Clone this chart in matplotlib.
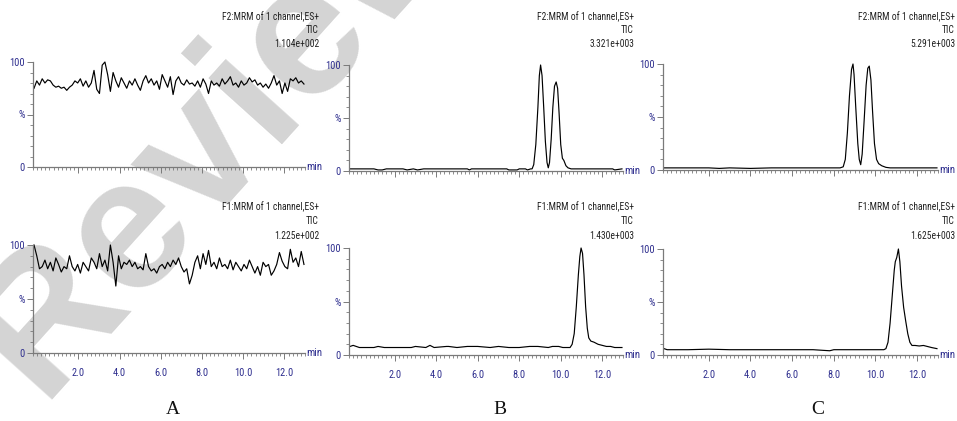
import numpy as np
import matplotlib
matplotlib.use("Agg")
import matplotlib.pyplot as plt
from matplotlib.ticker import FixedLocator, MultipleLocator
from matplotlib import font_manager

# ---------------- data ----------------
t_start, t_end = -0.15, 12.95

# Panel A (blank) - noisy TIC traces, % relative intensity
a_top_vals = [75, 82, 78, 84, 80, 83, 82, 78, 76, 77, 75, 76, 73, 76, 78, 82, 80, 84, 77, 82,
              76, 80, 92, 74, 70, 97, 100, 88, 72, 90, 82, 76, 85, 80, 75, 82, 78, 84, 78, 73,
              82, 87, 80, 84, 78, 82, 74, 88, 82, 76, 86, 69, 82, 86, 80, 78, 83, 79, 80, 77,
              82, 76, 84, 79, 70, 82, 78, 80, 77, 84, 79, 82, 86, 78, 80, 76, 82, 78, 80, 85,
              81, 83, 78, 80, 76, 79, 75, 80, 87, 78, 82, 70, 80, 72, 84, 82, 85, 80, 82, 79]
a_bot_vals = [100, 90, 78, 80, 86, 78, 84, 76, 88, 82, 75, 80, 78, 90, 80, 76, 82, 74, 84, 80,
              76, 88, 84, 78, 92, 80, 86, 76, 100, 84, 62, 90, 78, 84, 82, 86, 80, 84, 78, 80,
              77, 92, 80, 76, 78, 74, 80, 82, 78, 84, 80, 86, 82, 88, 80, 75, 78, 64, 72, 84,
              90, 78, 92, 82, 95, 80, 84, 78, 88, 80, 82, 78, 86, 77, 84, 80, 76, 82, 78, 86,
              80, 74, 80, 72, 84, 80, 82, 72, 76, 82, 93, 85, 80, 78, 96, 84, 88, 80, 94, 82]

# Panel B (standard) - F2 channel (two peaks), F1 channel (single peak)
b_top_t = [-0.15, 0.5, 1.0, 1.2, 1.4, 1.6, 2.4, 2.6, 2.9, 3.1, 3.4, 5.5, 5.6, 5.7, 7.4, 7.5,
           7.9, 8.0, 8.3, 8.4, 8.55, 8.62, 8.7, 8.8, 8.9, 8.97, 9.03, 9.1, 9.18, 9.26, 9.34,
           9.40, 9.46, 9.54, 9.62, 9.70, 9.78, 9.85, 9.92, 10.0, 10.08, 10.15, 10.25, 10.35,
           10.5, 11.0, 12.0, 12.5, 12.6, 12.95]
b_top_v = [2, 2, 2, 1, 1, 2, 2, 1, 2, 1, 2, 2, 1, 2, 2, 1,
           1, 2, 2, 1, 2, 2, 6, 25, 60, 90, 100, 90, 60, 28, 8,
           3, 8, 30, 60, 80, 84, 78, 55, 25, 12, 10, 5, 3,
           2, 2, 2, 2, 1, 2]
b_bot_t = [-0.15, 0.0, 0.15, 0.3, 1.0, 1.2, 1.5, 2.0, 2.8, 3.0, 3.5, 3.7, 3.9, 4.5, 4.6, 5.0,
           5.5, 6.0, 6.6, 7.0, 7.5, 8.0, 8.5, 8.9, 9.4, 9.6, 9.9, 10.1, 10.3, 10.45, 10.55,
           10.65, 10.75, 10.85, 10.92, 10.98, 11.05, 11.12, 11.2, 11.28, 11.35, 11.45, 11.6,
           11.8, 12.0, 12.2, 12.4, 12.6, 12.75, 12.95]
b_bot_v = [8, 9, 8, 7, 7, 8, 7, 7, 7, 8, 7, 9, 7, 8, 8, 7,
           8, 8, 7, 8, 7, 7, 8, 8, 7, 8, 8, 7, 7, 7, 10,
           20, 45, 75, 92, 100, 95, 75, 45, 25, 16, 13, 12,
           10, 9, 8, 8, 7, 7, 7]

# Panel C (sample) - F2 channel (two peaks), F1 channel (single peak)
c_top_t = [-0.15, 1.0, 2.0, 2.5, 3.0, 4.0, 5.0, 6.0, 7.0, 8.0, 8.3, 8.45, 8.55, 8.65, 8.75,
           8.85, 8.92, 8.97, 9.05, 9.15, 9.22, 9.29, 9.36, 9.45, 9.55, 9.63, 9.70, 9.78, 9.86,
           9.95, 10.05, 10.15, 10.3, 10.5, 10.7, 11.5, 12.5, 12.95]
c_top_v = [2, 2, 2, 1.5, 2, 1.5, 2, 2, 2, 2, 2, 3, 10, 35, 70,
           95, 100, 90, 60, 25, 10, 5, 15, 45, 80, 96, 98, 85, 55,
           25, 10, 6, 4, 2.5, 2, 2, 2, 2]
c_bot_t = [-0.15, 0.0, 0.2, 1.0, 2.0, 3.0, 4.0, 5.0, 6.0, 7.0, 7.8, 8.0, 9.0, 10.0, 10.4,
           10.5, 10.6, 10.7, 10.8, 10.9, 10.95, 11.02, 11.1, 11.17, 11.25, 11.35, 11.45,
           11.55, 11.65, 11.75, 11.9, 12.1, 12.3, 12.5, 12.7, 12.95]
c_bot_v = [6, 5, 5, 5, 5.5, 5, 5, 5, 5, 5, 4, 5, 5, 5, 5,
           6, 12, 30, 55, 80, 88, 92, 100, 88, 65, 45, 32,
           20, 12, 9, 9, 8.5, 9, 8, 7, 6]

headers_top = [("F2:MRM of 1 channel,ES+", "TIC", "1.104e+002"),
               ("F2:MRM of 1 channel,ES+", "TIC", "3.321e+003"),
               ("F2:MRM of 1 channel,ES+", "TIC", "5.291e+003")]
headers_bot = [("F1:MRM of 1 channel,ES+", "TIC", "1.225e+002"),
               ("F1:MRM of 1 channel,ES+", "TIC", "1.430e+003"),
               ("F1:MRM of 1 channel,ES+", "TIC", "1.625e+003")]
panel_labels = ["A", "B", "C"]
x_ticks = [2, 4, 6, 8, 10, 12]
y_ticks = [0, 50, 100]
y_ticklabels = ["0", "%", "100"]

# ---------------- drawing ----------------
W, H = 957, 421
fig = plt.figure(figsize=(W / 100, H / 100), dpi=100)

available = {f.name for f in font_manager.fontManager.ttflist}
narrow_candidates = ["Liberation Sans Narrow", "DejaVu Sans Condensed", "Roboto Condensed",
                     "Open Sans Condensed"]
narrow = [f for f in narrow_candidates if f in available]
if narrow:
    NARROW = [narrow[0], "DejaVu Sans"]
    HDR_SIZE, TICK_SIZE = 6.9, 7.5
else:
    NARROW = ["Liberation Sans", "DejaVu Sans"]
    HDR_SIZE, TICK_SIZE = 5.8, 6.5
BLUE = "#2e2e8e"

# watermark
fig.text(40 / W, 1 - 400 / H, "Review", rotation=48, rotation_mode="anchor",
         fontsize=135, color="#d4d4d4", fontweight="bold",
         family=["Liberation Sans", "DejaVu Sans"],
         ha="left", va="baseline", zorder=-5)

def px_rect(left, right, y0, y100):
    return [left / W, 1 - y0 / H, (right - left) / W, (y0 - y100) / H]

rects = {
    (0, 0): px_rect(33, 305, 167, 62),
    (0, 1): px_rect(33, 305, 353, 245),
    (1, 0): px_rect(349, 623, 171, 65),
    (1, 1): px_rect(349, 623, 355, 248),
    (2, 0): px_rect(663, 938, 170, 64),
    (2, 1): px_rect(663, 938, 355, 249),
}

series = {
    (0, 0): (np.linspace(t_start, t_end, len(a_top_vals)), a_top_vals),
    (0, 1): (np.linspace(t_start, t_end, len(a_bot_vals)), a_bot_vals),
    (1, 0): (b_top_t, b_top_v),
    (1, 1): (b_bot_t, b_bot_v),
    (2, 0): (c_top_t, c_top_v),
    (2, 1): (c_bot_t, c_bot_v),
}

header_right = [319, 634, 955]
header_y_top = [17, 30, 44]
header_y_bot = [207, 221, 236]

for (col, row), rect in rects.items():
    ax = fig.add_axes(rect)
    ax.patch.set_alpha(0)
    t, v = series[(col, row)]
    ax.plot(t, v, color="black", lw=0.85, clip_on=False)
    ax.set_xlim(-0.2, 13.0)
    ax.set_ylim(0, 100)
    for s in ["top", "right"]:
        ax.spines[s].set_visible(False)
    for s in ["left", "bottom"]:
        ax.spines[s].set_color("#7a7a7a")
        ax.spines[s].set_linewidth(0.9)
    ax.xaxis.set_major_locator(FixedLocator(x_ticks))
    ax.xaxis.set_minor_locator(MultipleLocator(0.2))
    ax.yaxis.set_major_locator(FixedLocator(y_ticks))
    ax.yaxis.set_minor_locator(MultipleLocator(10))
    ax.set_yticklabels(y_ticklabels)
    ax.tick_params(axis="both", which="major", length=4, width=0.7, color="#7a7a7a",
                   labelsize=TICK_SIZE, labelcolor=BLUE, pad=2)
    ax.tick_params(axis="both", which="minor", length=2, width=0.6, color="#7a7a7a")
    if row == 0:
        ax.set_xticklabels([])
    else:
        ax.set_xticklabels([f"{x:.1f}" for x in x_ticks])
        for lab in ax.get_xticklabels():
            lab.set_family(NARROW)
        ax.tick_params(axis="x", pad=7)
    for lab in ax.get_yticklabels():
        lab.set_family(NARROW)
    ax.text(1.006, 0.0, "min", transform=ax.transAxes, ha="left", va="center",
            color=BLUE, fontsize=7.8, family=NARROW)

    hdr = headers_top[col] if row == 0 else headers_bot[col]
    ys = header_y_top if row == 0 else header_y_bot
    for txt, yy in zip(hdr, ys):
        fig.text(header_right[col] / W, 1 - yy / H, txt, ha="right", va="center",
                 fontsize=HDR_SIZE, color="#222222", family=NARROW)

for lab, xp in zip(panel_labels, [173, 500, 818]):
    fig.text(xp / W, 1 - 410 / H, lab, ha="center", va="center", fontsize=14,
             family=["Liberation Serif", "DejaVu Serif"], color="#111111")

fig.savefig("out.png", dpi=100)
